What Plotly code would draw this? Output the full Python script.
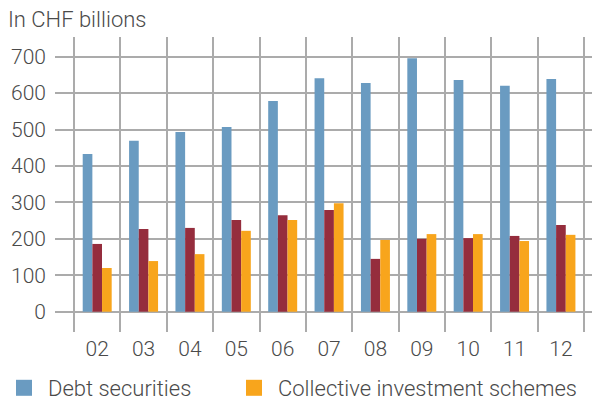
import plotly.graph_objects as go

years = ["02", "03", "04", "05", "06", "07", "08", "09", "10", "11", "12"]
debt_securities = [433, 469, 493, 507, 578, 641, 628, 696, 636, 620, 639]
shares = [186, 227, 230, 252, 265, 279, 145, 200, 202, 208, 238]
collective_schemes = [120, 139, 158, 222, 252, 298, 197, 213, 213, 194, 211]
y_ticks = [0, 100, 200, 300, 400, 500, 600, 700]

BLUE = "#6a9bc1"
RED = "#952d3d"
ORANGE = "#f8a51c"
TEXT = "#4a4a4a"
GRID = "#ababab"
FONT = "Roboto"

fig = go.Figure()
fig.add_trace(go.Bar(x=years, y=debt_securities, name="Debt securities",
                     marker=dict(color=BLUE, line=dict(width=0)), showlegend=False))
fig.add_trace(go.Bar(x=years, y=shares, name="Shares",
                     marker=dict(color=RED, line=dict(width=0)), showlegend=False))
fig.add_trace(go.Bar(x=years, y=collective_schemes, name="Collective investment schemes",
                     marker=dict(color=ORANGE, line=dict(width=0)), showlegend=False))

# legend entries with larger square swatches, one legend box per entry
for name, color, leg in [("Debt securities", BLUE, "legend"),
                         ("Collective investment schemes", ORANGE, "legend2")]:
    fig.add_trace(go.Scatter(x=[None], y=[None], mode="markers", name=name, legend=leg,
                             marker=dict(symbol="square", size=16, color=color)))

legend_style = dict(orientation="h", xanchor="left", xref="container",
                    y=1 - 388 / 401, yanchor="middle", yref="container", itemwidth=38,
                    font=dict(family=FONT, size=22, color=TEXT, weight=300),
                    bgcolor="rgba(0,0,0,0)")

fig.update_layout(
    width=592, height=401,
    margin=dict(l=55, r=0, t=37, b=69),
    paper_bgcolor="white", plot_bgcolor="white",
    barmode="group", bargap=0.375, bargroupgap=0,
    font=dict(family=FONT, size=21, color=TEXT, weight=300),
    title=dict(text="In CHF billions", x=8 / 592, xanchor="left", xref="container",
               y=1 - 19 / 401, yanchor="middle", yref="container",
               font=dict(family=FONT, size=22, color=TEXT, weight=300)),
    legend=dict(x=0, **legend_style),
    legend2=dict(x=230 / 592, **legend_style),
    showlegend=True,
)
fig.update_xaxes(type="category", range=[-0.91, 10.67], tickson="boundaries",
                 showgrid=True, gridcolor=GRID, gridwidth=1.5, ticks="",
                 showline=False, zeroline=False, ticklabelstandoff=2, automargin=False,
                 tickfont=dict(family=FONT, size=21, color=TEXT, weight=300))
fig.update_yaxes(range=[-55.7, 754], tickvals=y_ticks, showgrid=True, gridcolor=GRID,
                 gridwidth=1.5, zeroline=False, showline=False, ticks="",
                 ticklabelstandoff=8, automargin=False,
                 tickfont=dict(family=FONT, size=21, color=TEXT, weight=300))

fig.write_html("out.html")
